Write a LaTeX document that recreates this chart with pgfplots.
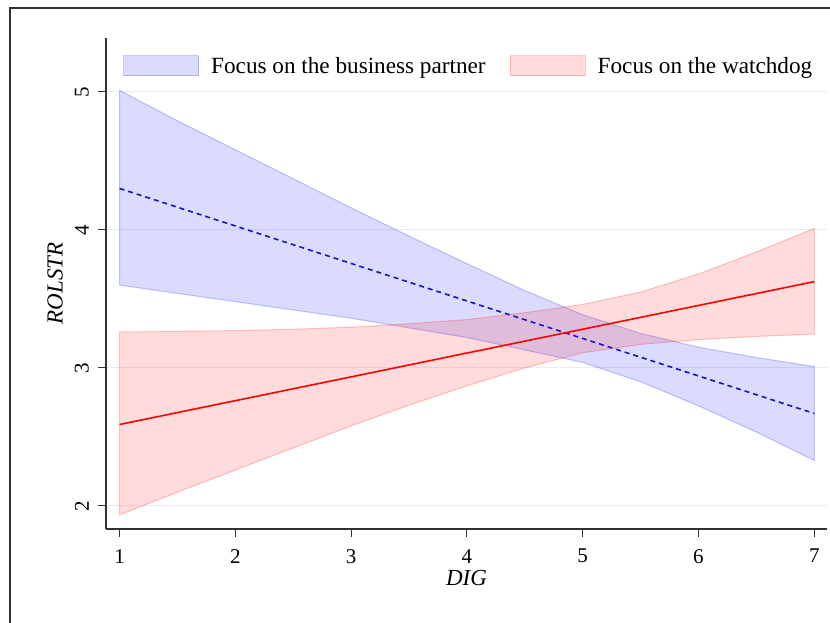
\documentclass[border=0pt]{standalone}
\usepackage{pgfplots}
\pgfplotsset{compat=1.18}
\usepackage{pgfplotstable}
\usepackage{fontspec}
\setmainfont{Liberation Serif}
\definecolor{spine}{RGB}{50,50,50}
\definecolor{gridc}{RGB}{230,237,243}
\definecolor{dblue}{RGB}{20,20,200}
% band outlines: upper bound from x=1 to 7, then lower bound from x=7 back to 1
\pgfplotstableread{
x y
1.0 5.01
1.5 4.79
2.0 4.58
2.5 4.37
3.0 4.16
3.5 3.955
4.0 3.755
4.5 3.56
5.0 3.385
5.5 3.25
6.0 3.15
6.5 3.075
7.0 3.01
7.0 2.33
6.5 2.535
6.0 2.725
5.5 2.90
5.0 3.04
4.5 3.13
4.0 3.22
3.5 3.29
3.0 3.36
2.5 3.42
2.0 3.48
1.5 3.54
1.0 3.60
}\blueband
\pgfplotstableread{
x y
1.0 3.26
1.5 3.265
2.0 3.27
2.5 3.28
3.0 3.295
3.5 3.32
4.0 3.35
4.5 3.40
5.0 3.46
5.5 3.55
6.0 3.68
6.5 3.84
7.0 4.01
7.0 3.245
6.5 3.228
6.0 3.205
5.5 3.17
5.0 3.11
4.5 3.00
4.0 2.87
3.5 2.73
3.0 2.58
2.5 2.42
2.0 2.26
1.5 2.10
1.0 1.935
}\redband
\begin{document}
\begin{tikzpicture}[x=1pt,y=1pt]
\useasboundingbox (0,0) rectangle (830,623);
\draw[line width=1.3pt, spine] (10,0) -- (10,615) -- (830,615);
\begin{axis}[
  at={(106pt,94pt)}, anchor=south west,
  scale only axis, width=721pt, height=491pt,
  xmin=0.883, xmax=7.11, ymin=1.833, ymax=5.39,
  axis x line*=bottom, axis y line*=left,
  axis line style={spine, line width=1.1pt, -},
  xtick={1,2,3,4,5,6,7}, ytick={2,3,4,5},
  tick align=outside, major tick length=8pt,
  tick style={spine, line width=1.1pt},
  ymajorgrids, major grid style={gridc, line width=1.1pt},
  /pgf/number format/assume math mode=true,
  tick label style={font=\fontsize{21}{21}\selectfont},
  yticklabel style={rotate=90, anchor=south, inner sep=0pt, yshift=9pt},
  xticklabel style={inner sep=0pt, yshift=-12pt},
  label style={font=\fontsize{23}{23}\selectfont\itshape},
  xlabel={DIG}, ylabel={ROLSTR},
  xlabel style={at={(axis description cs:0.5,-0.0998)}, anchor=center},
  ylabel style={at={(axis description cs:-0.0707,0.5)}, anchor=center},
  legend columns=2,
  legend style={at={(axis description cs:0.0236,0.943)}, anchor=west,
    draw=none, fill=none, inner sep=0pt,
    font=\fontsize{23.2}{23.2}\selectfont,
    /tikz/every even column/.append style={column sep=22pt},
    /tikz/every odd column/.append style={column sep=10pt}},
]
\addplot[fill=blue, fill opacity=0.14, draw=blue, draw opacity=0.22, line width=1pt,
  legend image code/.code={\draw[fill=blue, fill opacity=0.14, draw=blue, draw opacity=0.22, line width=1pt] (0pt,-10pt) rectangle (75pt,10pt);}]
  table[x=x, y=y] \blueband -- cycle;
\addlegendentry{Focus on the business partner}
\addplot[fill=red, fill opacity=0.14, draw=red, draw opacity=0.22, line width=1pt,
  legend image code/.code={\draw[fill=red, fill opacity=0.14, draw=red, draw opacity=0.22, line width=1pt] (0pt,-10pt) rectangle (75pt,10pt);}]
  table[x=x, y=y] \redband -- cycle;
\addlegendentry{Focus on the watchdog}
\addplot[dblue, line width=1.6pt, dash pattern=on 5pt off 4pt, forget plot] coordinates {(1,4.30) (7,2.67)};
\addplot[red, line width=1.6pt, forget plot] coordinates {(1,2.59) (7,3.625)};
\end{axis}
\end{tikzpicture}
\end{document}
